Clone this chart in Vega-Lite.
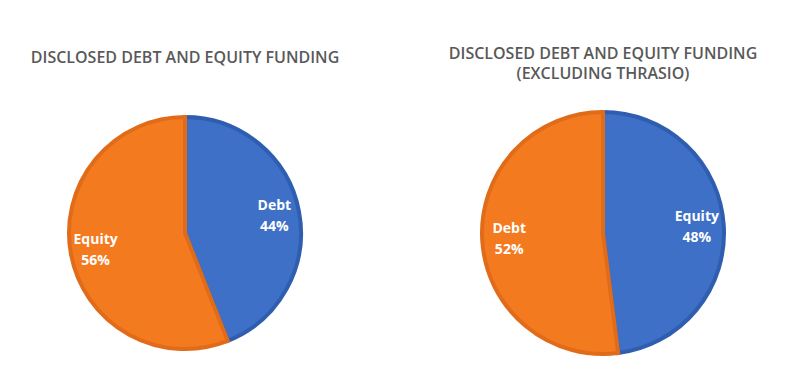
{
  "$schema": "https://vega.github.io/schema/vega-lite/v6.json",
  "padding": {"top": 46, "left": 0, "right": 0, "bottom": 0},
  "background": "white",
  "spacing": 48,
  "config": {
    "view": {"stroke": null},
    "font": "Open Sans",
    "title": {"fontSize": 16, "fontWeight": 600, "color": "#595959", "font": "Open Sans", "lineHeight": 20, "offset": 22, "anchor": "middle"}
  },
  "resolve": {"scale": {"color": "independent", "stroke": "independent", "theta": "independent"}},
  "hconcat": [
    {
      "width": 370,
      "height": 250,
      "title": {"text": ["DISCLOSED DEBT AND EQUITY FUNDING", " "]},
      "data": {"values": [
        {"category": "Debt", "share": 0.44},
        {"category": "Equity", "share": 0.56}
      ]},
      "encoding": {
        "theta": {"field": "share", "type": "quantitative", "stack": true},
        "order": {"field": "share", "type": "quantitative", "sort": "ascending"},
        "color": {"field": "category", "type": "nominal", "sort": ["Debt", "Equity"], "scale": {"range": ["#3D70C6", "#F47A20"]}, "legend": null}
      },
      "layer": [
        {
          "mark": {"type": "arc", "outerRadius": 116, "strokeWidth": 4},
          "encoding": {
            "stroke": {"field": "category", "type": "nominal", "sort": ["Debt", "Equity"], "scale": {"range": ["#2F5EB0", "#E06C1A"]}, "legend": null}
          }
        },
        {
          "mark": {"type": "text", "radius": 91, "dy": -10, "fontWeight": "bold", "fontSize": 14, "color": "white"},
          "encoding": {"text": {"field": "category"}, "color": {"value": "white"}}
        },
        {
          "mark": {"type": "text", "radius": 91, "dy": 11, "fontWeight": "bold", "fontSize": 14, "color": "white"},
          "encoding": {"text": {"field": "share", "type": "quantitative", "format": ".0%"}, "color": {"value": "white"}}
        }
      ]
    },
    {
      "width": 370,
      "height": 250,
      "title": {"text": ["DISCLOSED DEBT AND EQUITY FUNDING", "(EXCLUDING THRASIO)"]},
      "data": {"values": [
        {"category": "Equity", "share": 0.48},
        {"category": "Debt", "share": 0.52}
      ]},
      "encoding": {
        "theta": {"field": "share", "type": "quantitative", "stack": true},
        "order": {"field": "share", "type": "quantitative", "sort": "ascending"},
        "color": {"field": "category", "type": "nominal", "sort": ["Equity", "Debt"], "scale": {"range": ["#3D70C6", "#F47A20"]}, "legend": null}
      },
      "layer": [
        {
          "mark": {"type": "arc", "outerRadius": 121, "strokeWidth": 4},
          "encoding": {
            "stroke": {"field": "category", "type": "nominal", "sort": ["Equity", "Debt"], "scale": {"range": ["#2F5EB0", "#E06C1A"]}, "legend": null}
          }
        },
        {
          "mark": {"type": "text", "radius": 94, "dy": -10, "fontWeight": "bold", "fontSize": 14, "color": "white"},
          "encoding": {"text": {"field": "category"}, "color": {"value": "white"}}
        },
        {
          "mark": {"type": "text", "radius": 94, "dy": 11, "fontWeight": "bold", "fontSize": 14, "color": "white"},
          "encoding": {"text": {"field": "share", "type": "quantitative", "format": ".0%"}, "color": {"value": "white"}}
        }
      ]
    }
  ]
}
